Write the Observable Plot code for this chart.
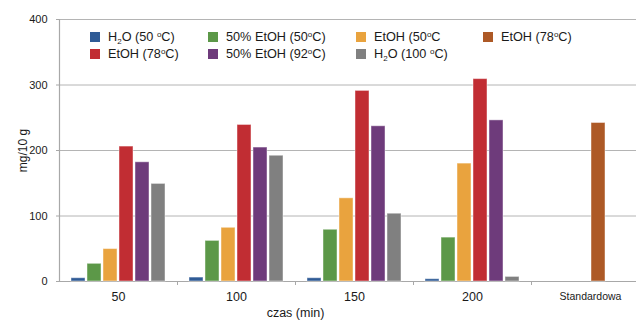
<!DOCTYPE html>
<html><head><meta charset="utf-8">
<script src="https://cdn.jsdelivr.net/npm/d3@7"></script>
<script src="https://cdn.jsdelivr.net/npm/@observablehq/plot@0.6"></script>
<style>
body{margin:0;background:#fff;font-family:"Liberation Sans",Arial,sans-serif;}
#wrap{position:relative;width:636px;height:320px;}
#legend{position:absolute;left:0;top:0;font-size:12.7px;color:#1a1a1a;}
.li{position:absolute;white-space:nowrap;line-height:13px;}
.sw{position:absolute;width:10px;height:10px;left:0;top:1px;}
.lt{position:absolute;left:18px;top:0;}
sub{font-size:8px;vertical-align:-3px;line-height:0;}
sup{font-size:8px;vertical-align:4px;line-height:0;}
</style></head>
<body><div id="wrap"><div id="legend"></div></div>
<script>
const categories = ["50", "100", "150", "200", "Standardowa"];
const seriesKeys = ["h2o50", "etoh5050", "etoh50", "etoh78", "etoh5092", "h2o100", "std78"];
const seriesLabels = ["H<sub>2</sub>O (50 <sup>o</sup>C)", "50% EtOH (50<sup>o</sup>C)", "EtOH (50<sup>o</sup>C", "EtOH (78<sup>o</sup>C)", "50% EtOH (92<sup>o</sup>C)", "H<sub>2</sub>O (100 <sup>o</sup>C)", "EtOH (78<sup>o</sup>C)"];
const seriesColors = ["#2F5B96", "#5C9848", "#E9A33E", "#C12D33", "#6E3B7B", "#808080", "#AD5926"];
const seriesSlot = [0, 1, 2, 3, 4, 5, 3];
const h2o50    = [5, 6, 5, 3.5, null];
const etoh5050 = [27, 62, 79, 67, null];
const etoh50   = [49.5, 82, 127, 180, null];
const etoh78   = [206, 239, 291, 309, null];
const etoh5092 = [182, 204.5, 237, 246, null];
const h2o100   = [149, 192, 103.5, 7, null];
const std78    = [null, null, null, null, 242];
const yTicks = [0, 100, 200, 300, 400];
const legendOrder = [0, 1, 2, 6, 3, 4, 5];

const seriesValues = [h2o50, etoh5050, etoh50, etoh78, etoh5092, h2o100, std78];
const rows = [];
seriesValues.forEach((vals, s) => vals.forEach((v, i) => {
  if (v != null) rows.push({cat: categories[i], slot: seriesSlot[s], key: seriesKeys[s], value: v});
}));

const chart = Plot.plot({
  width: 636, height: 320,
  marginLeft: 59, marginTop: 19, marginBottom: 39, marginRight: 0,
  style: {fontFamily: "Liberation Sans, Arial, sans-serif", color: "#1a1a1a", background: "#fff"},
  fx: {domain: categories, range: [59, 649], padding: 0},
  x: {domain: [0, 1, 2, 3, 4, 5], paddingInner: 0.125, paddingOuter: 0.75, axis: null},
  y: {domain: [0, 400]},
  color: {domain: seriesKeys, range: seriesColors},
  marks: [
    Plot.gridY(yTicks, {stroke: "#b4b4b4", strokeOpacity: 1, strokeWidth: 1}),
    Plot.ruleY([0], {stroke: "#a8a8a8", strokeWidth: 1.2}),
    Plot.barY(rows, {fx: "cat", x: "slot", y: "value", fill: "key", stroke: "#ffffff", strokeOpacity: 0.45, strokeWidth: 1}),
    Plot.axisY(yTicks, {anchor: "left", tickSize: 3, tickPadding: 9, fontSize: 11, stroke: "#a8a8a8",
      label: "mg/10 g", labelAnchor: "center", labelArrow: "none", labelOffset: 41}),
    Plot.axisFx({anchor: "bottom", tickSize: 0, tickPadding: 11, fontSize: 12.5, label: null}),
    Plot.text(["czas (min)"], {fx: () => "150", frameAnchor: "bottom-left", dy: 35, textAnchor: "middle", fontSize: 12.5, fill: "#1a1a1a"})
  ]
});
document.getElementById("wrap").prepend(chart);

const svg = d3.select(chart);
// vertical axis line
svg.append("line").attr("x1", 59.5).attr("x2", 59.5).attr("y1", 19).attr("y2", 281).attr("stroke", "#a8a8a8").attr("stroke-width", 1.2);
// small ticks between categories, from the fx scale
const fx = chart.scale("fx");
const yS = chart.scale("y");
categories.slice(1).forEach(c => {
  const xb = Math.round(fx.apply(c)) + 0.5;
  svg.append("line").attr("x1", xb).attr("x2", xb).attr("y1", yS.apply(0)).attr("y2", yS.apply(0) + 4).attr("stroke", "#a8a8a8");
});
// smaller "Standardowa" label, larger y label
svg.selectAll("text").filter(function(){ return this.textContent === "Standardowa"; }).attr("font-size", 10.5);
svg.selectAll("text").filter(function(){ return this.textContent === "mg/10 g"; }).attr("font-size", 12);

// legend
const colX = [90, 208, 356, 483];
const legend = document.getElementById("legend");
legendOrder.forEach((s, i) => {
  const r = i < 4 ? 0 : 1, c = i < 4 ? i : i - 4;
  const d = document.createElement("div");
  d.className = "li";
  d.style.left = colX[c] + "px";
  d.style.top = (r === 0 ? 31 : 48) + "px";
  d.innerHTML = `<span class="sw" style="background:${seriesColors[s]}"></span><span class="lt">${seriesLabels[s]}</span>`;
  legend.appendChild(d);
});
</script></body></html>
